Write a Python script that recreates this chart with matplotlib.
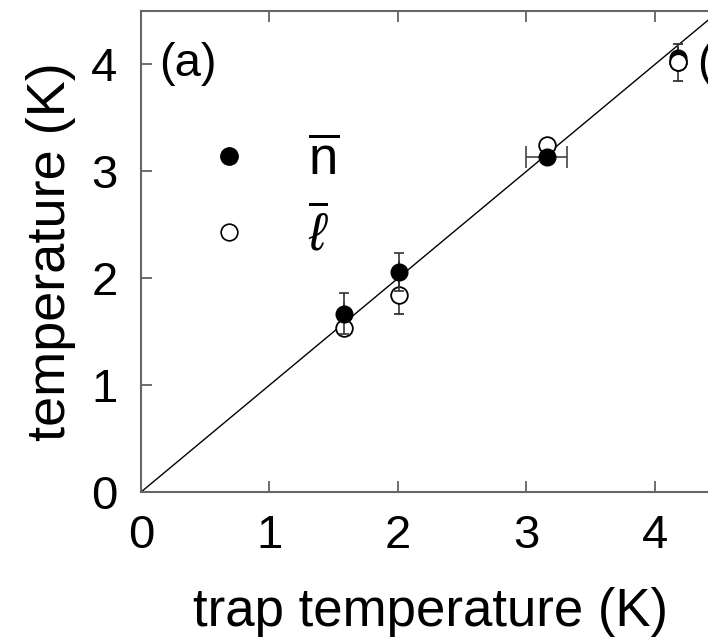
import matplotlib
matplotlib.use('Agg')
import matplotlib.pyplot as plt
from matplotlib.lines import Line2D

plt.rcParams['font.family'] = ['Liberation Sans', 'DejaVu Sans']
plt.rcParams['mathtext.fontset'] = 'custom'
plt.rcParams['mathtext.rm'] = 'Liberation Sans'
plt.rcParams['mathtext.it'] = 'Liberation Sans:italic'

# trap temperature vs. temperature from the two estimators
trap_T = [1.58, 2.01, 3.16, 4.18]
trap_err = [0.0, 0.0, 0.16, 0.0]
n_T = [1.67, 2.06, 3.13, 4.06]
n_err = [0.19, 0.18, 0.04, 0.05]
l_T = [1.53, 1.84, 3.25, 4.02]
l_err = [0.04, 0.17, 0.04, 0.17]

xticks = [0, 1, 2, 3, 4]
yticks = [0, 1, 2, 3, 4]

fig = plt.figure(figsize=(7.08, 6.39), dpi=100)
ax = fig.add_axes([0.1992, 0.230, 0.8164, 0.7527])

ax.plot([0, 4.5], [0, 4.5], color='black', lw=1.0, zorder=1)

ms = 12
# horizontal error on the trap temperature
ax.errorbar(trap_T, n_T, xerr=trap_err, fmt='none', ecolor='#444444',
            elinewidth=1.2, capsize=8, capthick=1.2, zorder=2)
ax.errorbar(trap_T, l_T, yerr=l_err, fmt='o', ms=ms, mfc='white', mec='black',
            mew=1.3, ecolor='#333333', elinewidth=1.2, capsize=3.6,
            capthick=1.2, zorder=3)
ax.errorbar(trap_T, n_T, yerr=n_err, fmt='o', ms=ms, mfc='black', mec='black',
            ecolor='#333333', elinewidth=1.2, capsize=3.6, capthick=1.2,
            zorder=4)
# highest point: open circle sits in front
ax.plot(trap_T[-1:], l_T[-1:], 'o', ms=ms, mfc='white', mec='black', mew=1.3,
        zorder=5)

ax.set_xlim(0, 4.5)
ax.set_ylim(0, 4.5)
ax.set_xticks(xticks)
ax.set_yticks(yticks)
ax.tick_params(direction='in', length=8, width=1.2, labelsize=34,
               top=True, right=False, color='#555555')
ax.tick_params(axis='x', pad=16)
ax.tick_params(axis='y', pad=17)
for side in ['left', 'bottom', 'top']:
    ax.spines[side].set_color('#666666')
    ax.spines[side].set_linewidth(1.5)
ax.spines['right'].set_visible(False)

ax.set_xlabel('trap temperature (K)', fontsize=38, labelpad=21)
ax.set_ylabel('temperature (K)', fontsize=39, labelpad=11)

ax.text(0.14, 4.0, '(a)', fontsize=34, va='center', ha='left')
fig.text(0.985, 0.90, '(b)', fontsize=34, va='center', ha='left')

handles = [Line2D([], [], ls='none', marker='o', ms=12.5, mfc='black', mec='black'),
           Line2D([], [], ls='none', marker='o', ms=12, mfc='white', mec='black',
                  mew=1.2)]
labels = [r'$\overline{\mathrm{n}}$', r'$\overline{\ell}$']
ax.legend(handles, labels, loc='upper left', bbox_to_anchor=(0.07, 0.785),
          frameon=False, fontsize=38, handlelength=1.0, handletextpad=1.0,
          labelspacing=0.4, borderaxespad=0)

fig.savefig('out.png', dpi=100)
